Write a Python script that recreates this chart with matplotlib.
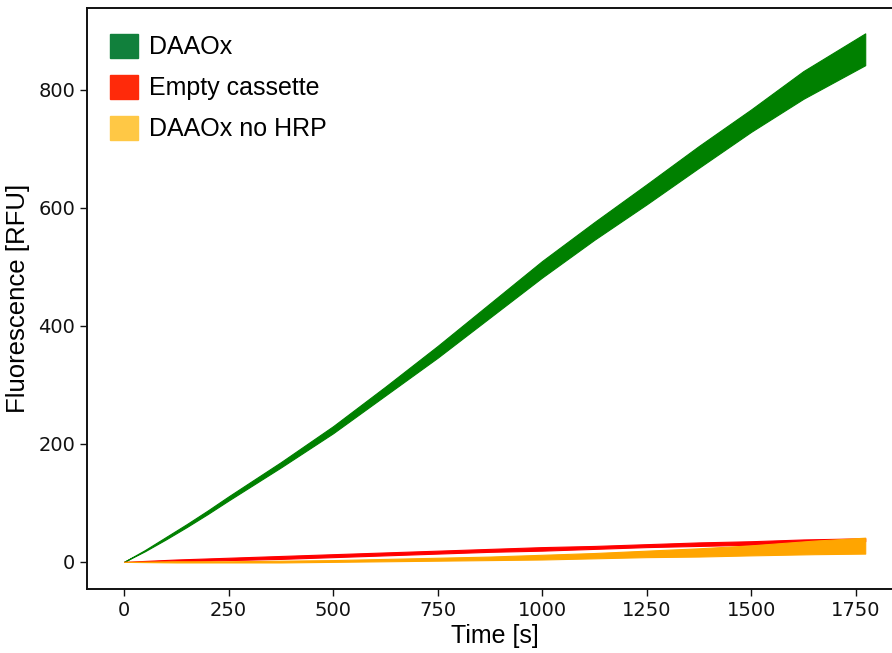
import matplotlib
matplotlib.use('Agg')
from matplotlib import pyplot as plt
from matplotlib.patches import Patch

# time points [s]
time = [0, 50, 100, 150, 200, 250, 375, 500, 625, 750, 875, 1000, 1125, 1250, 1375, 1500, 1625, 1773]

# DAAOx band (lower / upper)
daao_low = [0, 18, 38, 59, 81, 104, 160, 218, 282, 346, 414, 482, 546, 606, 668, 729, 785, 842]
daao_high = [0, 20, 42, 64, 87, 111, 169, 230, 297, 366, 438, 510, 576, 640, 705, 767, 832, 896]

# Empty cassette band
empty_time = [0, 125, 250, 375, 500, 625, 750, 875, 1000, 1125, 1250, 1375, 1500, 1625, 1773]
empty_low = [0, 1, 3, 5, 8, 11, 14, 17, 19, 22, 25, 27, 29, 32, 35]
empty_high = [0, 4, 7, 10, 13, 16, 19, 22, 25, 27, 30, 33, 35, 38, 40]

# DAAOx no HRP band
nohrp_time = [0, 125, 250, 375, 500, 625, 750, 875, 1000, 1125, 1250, 1375, 1500, 1650, 1773]
nohrp_low = [0, -1, -1, -1, 0, 1, 2, 3, 4, 6, 8, 9, 11, 13, 14]
nohrp_high = [0, 1, 1, 2, 3, 5, 7, 9, 12, 15, 19, 23, 28, 36, 41]

labels = ['DAAOx', 'Empty cassette', 'DAAOx no HRP']
legend_colors = ['#11803c', '#ff2a0a', '#ffc845']

fig = plt.figure(figsize=(8.92, 6.53), dpi=100)
ax = fig.add_axes([87/892, 64/653, 815/892, 581/653])

ax.fill_between(time, daao_low, daao_high, color='#008000', linewidth=0.8)
ax.fill_between(empty_time, empty_low, empty_high, color='#ff0000', linewidth=0.8)
ax.fill_between(nohrp_time, nohrp_low, nohrp_high, color='#ffa500', linewidth=0.8)

ax.set_xlim(-88.6, 1861)
ax.set_ylim(-46, 939)
ax.set_xticks([0, 250, 500, 750, 1000, 1250, 1500, 1750])
ax.set_yticks([0, 200, 400, 600, 800])
ax.tick_params(labelsize=14, length=5, width=1, colors='#111111')
for s in ax.spines.values():
	s.set_linewidth(1.4)
	s.set_color('#111111')

ax.set_xlabel('Time [s]', fontsize=18, family='Liberation Sans', labelpad=3)
ax.set_ylabel('Fluorescence [RFU]', fontsize=18.5, family='Liberation Sans', labelpad=6)

handles = [Patch(color=c) for c in legend_colors]
ax.legend(handles, labels, loc='upper left', frameon=False,
	bbox_to_anchor=(0, 1 - 3/581),
	prop={'family': 'Liberation Sans', 'size': 18},
	handlelength=1.12, handleheight=1.12, handletextpad=0.45, labelspacing=0.62,
	borderaxespad=0.5, borderpad=0.4)

fig.savefig('out.png', dpi=100)
